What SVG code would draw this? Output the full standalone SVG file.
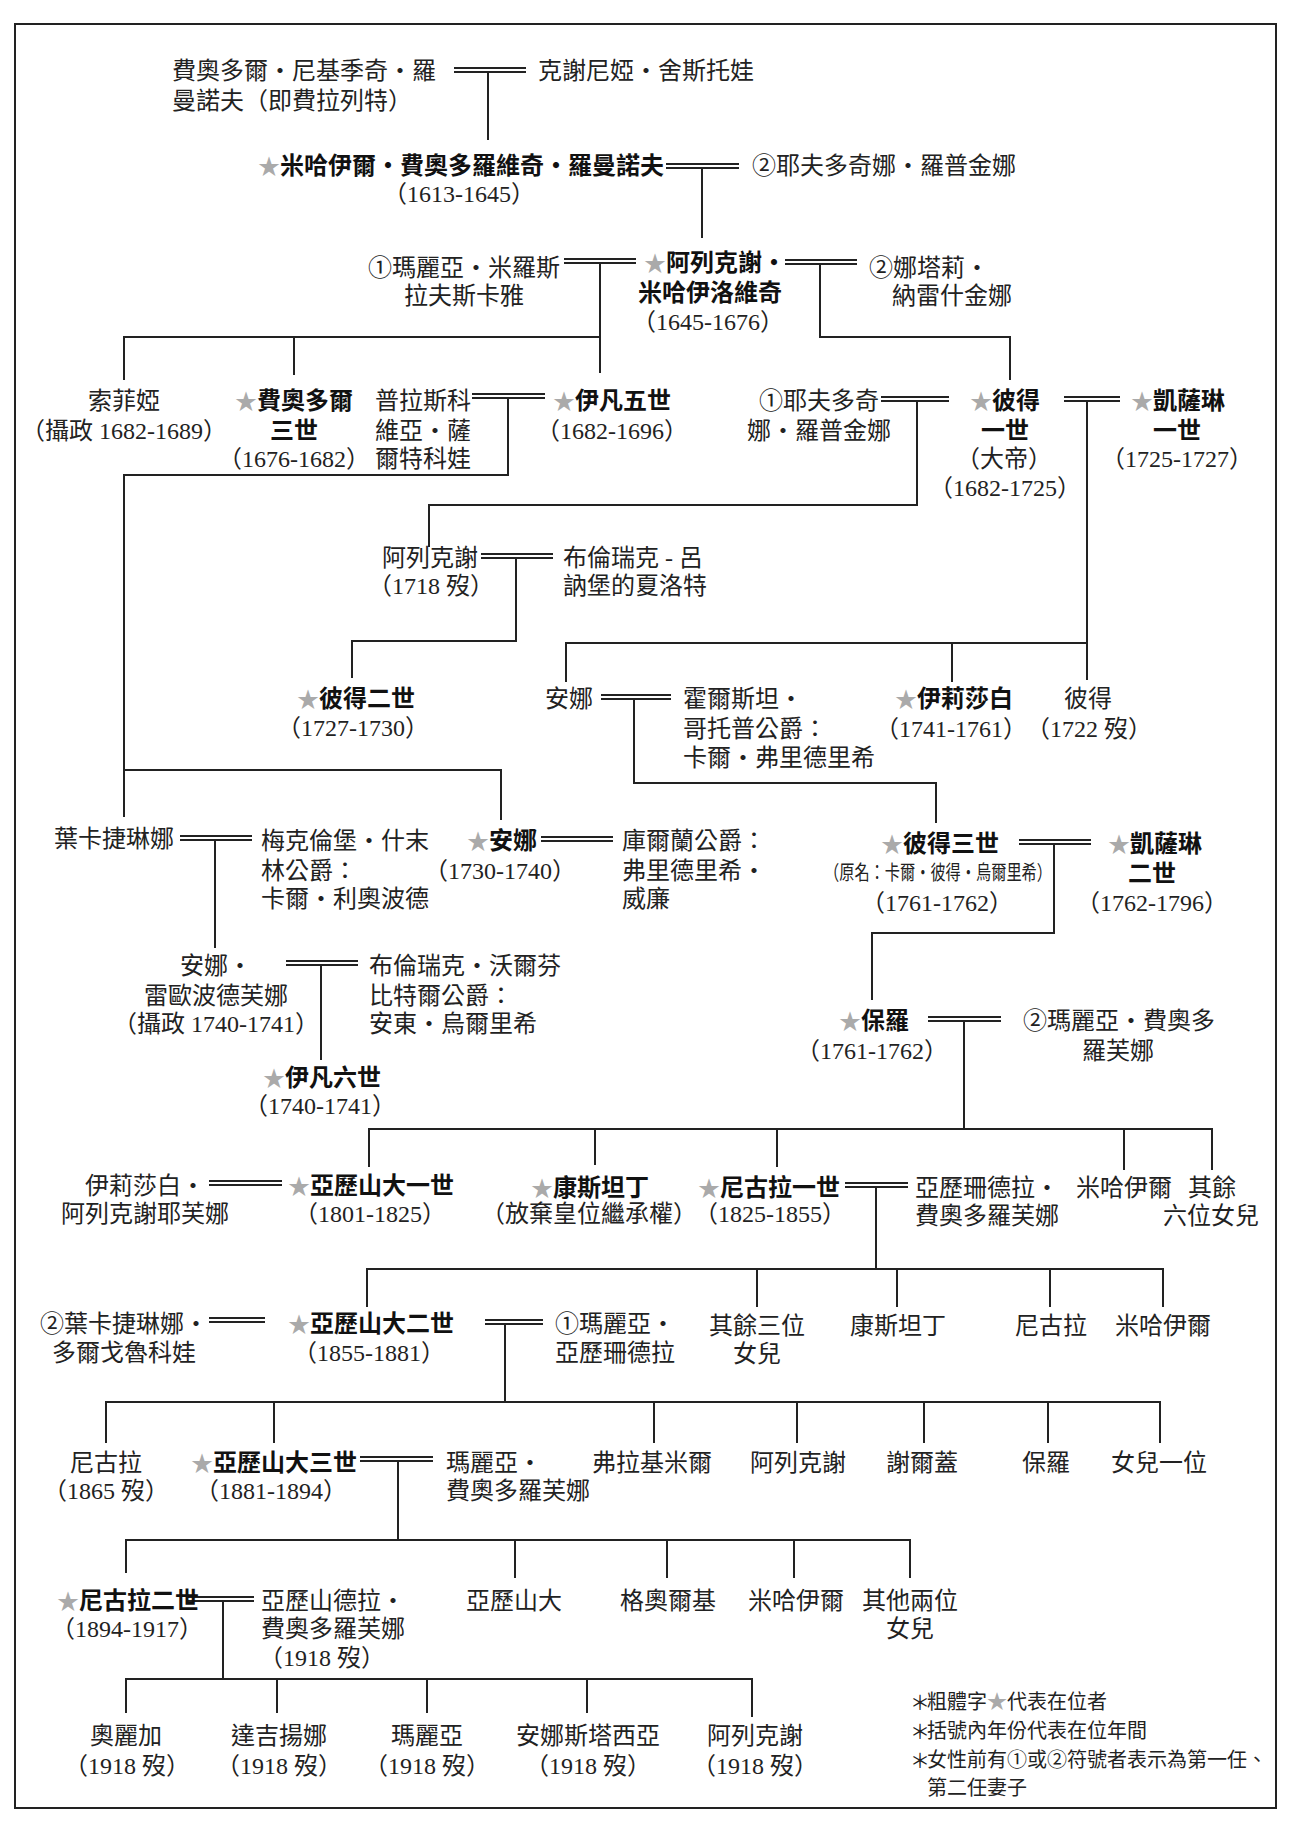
<svg xmlns="http://www.w3.org/2000/svg" width="1300" height="1844" viewBox="0 0 1300 1844">
<style>
.t{font-family:"Liberation Serif","Noto Sans CJK TC",serif;font-size:24px;fill:#222}
.b{font-family:"Liberation Sans","Noto Sans CJK TC",sans-serif;font-weight:700;font-size:24px;fill:#111}
.s{fill:#aaa;font-size:22px;font-weight:400}
.m{text-anchor:middle}
.n{font-family:"Liberation Serif","Noto Sans CJK TC",serif;font-size:20px;fill:#222}
.ln{stroke:#222;stroke-width:2;fill:none}
.d{stroke:#222;stroke-width:1.8;fill:none}
</style>
<rect width="1300" height="1844" fill="#fff"/>
<rect x="15" y="24" width="1261" height="1784" fill="none" stroke="#222" stroke-width="2"/>

<g id="connectors">
<path class="d" d="M454,68H526M454,72H526"/>
<path class="d" d="M666,164H739M666,168H739"/>
<path class="d" d="M564,259H636M564,263H636"/>
<path class="d" d="M785,260H857M785,264H857"/>
<path class="d" d="M472,394H545M472,398H545"/>
<path class="d" d="M881,397H949M881,401H949"/>
<path class="d" d="M1064,397H1120M1064,401H1120"/>
<path class="d" d="M481,554H553M481,558H553"/>
<path class="d" d="M601,695H671M601,699H671"/>
<path class="d" d="M180,836H252M180,840H252"/>
<path class="d" d="M541,837H613M541,841H613"/>
<path class="d" d="M1019,840H1091M1019,844H1091"/>
<path class="d" d="M286,961H358M286,965H358"/>
<path class="d" d="M928,1017H1001M928,1021H1001"/>
<path class="d" d="M209,1181H282M209,1185H282"/>
<path class="d" d="M845,1183H908M845,1187H908"/>
<path class="d" d="M209,1318H265M209,1322H265"/>
<path class="d" d="M485,1320H543M485,1324H543"/>
<path class="d" d="M360,1457H433M360,1461H433"/>
<path class="d" d="M188,1597H254M188,1601H254"/>
<path class="ln" d="M488,72V140"/>
<path class="ln" d="M702,168V238"/>
<path class="ln" d="M600,263V373M124,380V337H600M294,337V375"/>
<path class="ln" d="M820,264V337H1010V380"/>
<path class="ln" d="M508,398V475H124V817M124,770H501V820"/>
<path class="ln" d="M917,401V505H429V547"/>
<path class="ln" d="M1087,401V680M566,682V643H1087M952,643V682"/>
<path class="ln" d="M516,558V641H352V678"/>
<path class="ln" d="M634,699V783H936V823"/>
<path class="ln" d="M215,840V948"/>
<path class="ln" d="M1054,844V933H872V1000"/>
<path class="ln" d="M321,965V1060"/>
<path class="ln" d="M964,1021V1129M369,1167V1129H1212V1170M595,1129V1165M777,1129V1167M1124,1129V1170"/>
<path class="ln" d="M876,1187V1269M367,1307V1269H1163V1307M757,1269V1307M897,1269V1307M1050,1269V1307"/>
<path class="ln" d="M505,1324V1402M106,1443V1402H1160V1443M274,1402V1443M654,1402V1443M797,1402V1443M924,1402V1443M1048,1402V1443"/>
<path class="ln" d="M398,1461V1540M126,1573V1540H910V1578M515,1540V1578M667,1540V1578M794,1540V1578"/>
<path class="ln" d="M223,1601V1679M126,1713V1679H752V1717M277,1679V1713M427,1679V1713M587,1679V1713"/>
</g>

<g id="n_fedor_nikitich"><text class="t" x="172" y="79">費奧多爾・尼基季奇・羅</text><text class="t" x="172" y="109">曼諾夫（即費拉列特）</text></g>
<g id="n_kseniya"><text class="t" x="538" y="79">克謝尼婭・舍斯托娃</text></g>
<g id="n_mikhail"><text class="b" x="258" y="174"><tspan class="s">★</tspan>米哈伊爾・費奧多羅維奇・羅曼諾夫</text><text class="t m" x="459" y="202">（1613-1645）</text></g>
<g id="n_evdokiya_l"><text class="t" x="752" y="174">②耶夫多奇娜・羅普金娜</text></g>
<g id="n_maria_m"><text class="t m" x="464" y="276">①瑪麗亞・米羅斯</text><text class="t m" x="464" y="304">拉夫斯卡雅</text></g>
<g id="n_alexei"><text class="b" x="644" y="271"><tspan class="s">★</tspan>阿列克謝・</text><text class="b m" x="710" y="301">米哈伊洛維奇</text><text class="t m" x="708" y="330">（1645-1676）</text></g>
<g id="n_natalya"><text class="t" x="869" y="276">②娜塔莉・</text><text class="t" x="892" y="304">納雷什金娜</text></g>

<g id="n_sofia"><text class="t m" x="124" y="409">索菲婭</text><text class="t m" x="124" y="439">（攝政 1682-1689）</text></g>
<g id="n_fedor3"><text class="b" x="235" y="409"><tspan class="s">★</tspan>費奧多爾</text><text class="b m" x="294" y="439">三世</text><text class="t m" x="294" y="467">（1676-1682）</text></g>
<g id="n_praskovia"><text class="t" x="375" y="409">普拉斯科</text><text class="t" x="375" y="439">維亞・薩</text><text class="t" x="375" y="467">爾特科娃</text></g>
<g id="n_ivan5"><text class="b" x="553" y="409"><tspan class="s">★</tspan>伊凡五世</text><text class="t m" x="612" y="439">（1682-1696）</text></g>
<g id="n_evdokiya_p"><text class="t m" x="819" y="409">①耶夫多奇</text><text class="t m" x="819" y="439">娜・羅普金娜</text></g>
<g id="n_peter1"><text class="b" x="970" y="409"><tspan class="s">★</tspan>彼得</text><text class="b m" x="1005" y="439">一世</text><text class="t m" x="1004" y="467">（大帝）</text><text class="t m" x="1005" y="496">（1682-1725）</text></g>
<g id="n_catherine1"><text class="b" x="1131" y="409"><tspan class="s">★</tspan>凱薩琳</text><text class="b m" x="1177" y="439">一世</text><text class="t m" x="1177" y="467">（1725-1727）</text></g>

<g id="n_alexei_t"><text class="t m" x="430" y="566">阿列克謝</text><text class="t m" x="431" y="594">（1718 歿）</text></g>
<g id="n_charlotte"><text class="t" x="563" y="566">布倫瑞克 - 呂</text><text class="t" x="563" y="594">訥堡的夏洛特</text></g>

<g id="n_peter2"><text class="b" x="297" y="707"><tspan class="s">★</tspan>彼得二世</text><text class="t m" x="353" y="736">（1727-1730）</text></g>
<g id="n_anna_p"><text class="t" x="545" y="707">安娜</text></g>
<g id="n_holstein"><text class="t" x="683" y="707">霍爾斯坦・</text><text class="t" x="683" y="737">哥托普公爵：</text><text class="t" x="683" y="766">卡爾・弗里德里希</text></g>
<g id="n_elizabeth"><text class="b" x="895" y="707"><tspan class="s">★</tspan>伊莉莎白</text><text class="t m" x="951" y="737">（1741-1761）</text></g>
<g id="n_peter_d"><text class="t m" x="1088" y="707">彼得</text><text class="t m" x="1089" y="737">（1722 歿）</text></g>

<g id="n_ekaterina_i"><text class="t" x="54" y="847">葉卡捷琳娜</text></g>
<g id="n_mecklenburg"><text class="t" x="261" y="849">梅克倫堡・什末</text><text class="t" x="261" y="879">林公爵：</text><text class="t" x="261" y="907">卡爾・利奧波德</text></g>
<g id="n_anna_i"><text class="b" x="467" y="849"><tspan class="s">★</tspan>安娜</text><text class="t m" x="500" y="879">（1730-1740）</text></g>
<g id="n_courland"><text class="t" x="622" y="849">庫爾蘭公爵：</text><text class="t" x="622" y="879">弗里德里希・</text><text class="t" x="622" y="907">威廉</text></g>
<g id="n_peter3"><text class="b" x="881" y="852"><tspan class="s">★</tspan>彼得三世</text><text class="n m" x="938" y="880" textLength="228" lengthAdjust="spacingAndGlyphs">（原名：卡爾・彼得・烏爾里希）</text><text class="t m" x="937" y="911">（1761-1762）</text></g>
<g id="n_catherine2"><text class="b" x="1108" y="852"><tspan class="s">★</tspan>凱薩琳</text><text class="b m" x="1152" y="882">二世</text><text class="t m" x="1152" y="911">（1762-1796）</text></g>

<g id="n_anna_l"><text class="t m" x="216" y="974">安娜・</text><text class="t m" x="216" y="1004">雷歐波德芙娜</text><text class="t m" x="216" y="1032">（攝政 1740-1741）</text></g>
<g id="n_brunswick"><text class="t" x="369" y="974">布倫瑞克・沃爾芬</text><text class="t" x="369" y="1004">比特爾公爵：</text><text class="t" x="369" y="1032">安東・烏爾里希</text></g>
<g id="n_ivan6"><text class="b" x="263" y="1086"><tspan class="s">★</tspan>伊凡六世</text><text class="t m" x="320" y="1114">（1740-1741）</text></g>
<g id="n_paul"><text class="b" x="839" y="1029"><tspan class="s">★</tspan>保羅</text><text class="t m" x="872" y="1059">（1761-1762）</text></g>
<g id="n_maria_f"><text class="t" x="1023" y="1029">②瑪麗亞・費奧多</text><text class="t m" x="1118" y="1059">羅芙娜</text></g>

<g id="n_elizabeth_a"><text class="t m" x="145" y="1194">伊莉莎白・</text><text class="t m" x="145" y="1222">阿列克謝耶芙娜</text></g>
<g id="n_alex1"><text class="b" x="288" y="1194"><tspan class="s">★</tspan>亞歷山大一世</text><text class="t m" x="370" y="1222">（1801-1825）</text></g>
<g id="n_konstantin"><text class="b" x="531" y="1196"><tspan class="s">★</tspan>康斯坦丁</text><text class="t m" x="589" y="1222">（放棄皇位繼承權）</text></g>
<g id="n_nicholas1"><text class="b" x="698" y="1196"><tspan class="s">★</tspan>尼古拉一世</text><text class="t m" x="770" y="1222">（1825-1855）</text></g>
<g id="n_alexandra_f"><text class="t" x="915" y="1196">亞歷珊德拉・</text><text class="t" x="915" y="1224">費奧多羅芙娜</text></g>
<g id="n_mikhail_p"><text class="t m" x="1124" y="1196">米哈伊爾</text></g>
<g id="n_six_daughters"><text class="t m" x="1212" y="1196">其餘</text><text class="t m" x="1211" y="1224">六位女兒</text></g>

<g id="n_ekaterina_d"><text class="t m" x="124" y="1332">②葉卡捷琳娜・</text><text class="t m" x="124" y="1361">多爾戈魯科娃</text></g>
<g id="n_alex2"><text class="b" x="288" y="1332"><tspan class="s">★</tspan>亞歷山大二世</text><text class="t m" x="369" y="1361">（1855-1881）</text></g>
<g id="n_maria_a"><text class="t" x="555" y="1332">①瑪麗亞・</text><text class="t" x="555" y="1361">亞歷珊德拉</text></g>
<g id="n_three_daughters"><text class="t m" x="757" y="1334">其餘三位</text><text class="t m" x="757" y="1362">女兒</text></g>
<g id="n_konstantin_n"><text class="t m" x="898" y="1334">康斯坦丁</text></g>
<g id="n_nikolai_n"><text class="t m" x="1051" y="1334">尼古拉</text></g>
<g id="n_mikhail_n"><text class="t m" x="1163" y="1334">米哈伊爾</text></g>

<g id="n_nikolai_a"><text class="t m" x="106" y="1471">尼古拉</text><text class="t m" x="106" y="1499">（1865 歿）</text></g>
<g id="n_alex3"><text class="b" x="191" y="1471"><tspan class="s">★</tspan>亞歷山大三世</text><text class="t m" x="271" y="1499">（1881-1894）</text></g>
<g id="n_maria_f2"><text class="t" x="446" y="1471">瑪麗亞・</text><text class="t" x="446" y="1499">費奧多羅芙娜</text></g>
<g id="n_vladimir"><text class="t m" x="652" y="1471">弗拉基米爾</text></g>
<g id="n_alexei_a"><text class="t m" x="798" y="1471">阿列克謝</text></g>
<g id="n_sergei"><text class="t m" x="922" y="1471">謝爾蓋</text></g>
<g id="n_paul_a"><text class="t m" x="1046" y="1471">保羅</text></g>
<g id="n_daughter_a"><text class="t m" x="1159" y="1471">女兒一位</text></g>

<g id="n_nicholas2"><text class="b" x="57" y="1609"><tspan class="s">★</tspan>尼古拉二世</text><text class="t m" x="127" y="1637">（1894-1917）</text></g>
<g id="n_alexandra_h"><text class="t" x="261" y="1609">亞歷山德拉・</text><text class="t" x="261" y="1637">費奧多羅芙娜</text><text class="t m" x="322" y="1666">（1918 歿）</text></g>
<g id="n_alexander_a"><text class="t m" x="514" y="1609">亞歷山大</text></g>
<g id="n_georgy"><text class="t m" x="668" y="1609">格奧爾基</text></g>
<g id="n_mikhail_a"><text class="t m" x="796" y="1609">米哈伊爾</text></g>
<g id="n_two_daughters"><text class="t m" x="910" y="1609">其他兩位</text><text class="t m" x="910" y="1637">女兒</text></g>

<g id="n_olga"><text class="t m" x="126" y="1744">奧麗加</text><text class="t m" x="127" y="1774">（1918 歿）</text></g>
<g id="n_tatiana"><text class="t m" x="279" y="1744">達吉揚娜</text><text class="t m" x="279" y="1774">（1918 歿）</text></g>
<g id="n_maria_n"><text class="t m" x="427" y="1744">瑪麗亞</text><text class="t m" x="427" y="1774">（1918 歿）</text></g>
<g id="n_anastasia"><text class="t m" x="588" y="1744">安娜斯塔西亞</text><text class="t m" x="588" y="1774">（1918 歿）</text></g>
<g id="n_alexei_n"><text class="t m" x="755" y="1744">阿列克謝</text><text class="t m" x="755" y="1774">（1918 歿）</text></g>

<g id="legend">
<text class="n" x="910" y="1710" font-size="17">＊</text><text class="n" x="927" y="1709">粗體字<tspan fill="#aaa">★</tspan>代表在位者</text>
<text class="n" x="910" y="1739" font-size="17">＊</text><text class="n" x="927" y="1738">括號內年份代表在位年間</text>
<text class="n" x="910" y="1768" font-size="17">＊</text><text class="n" x="927" y="1767">女性前有①或②符號者表示為第一任、</text>
<text class="n" x="927" y="1795">第二任妻子</text>
</g>
</svg>
